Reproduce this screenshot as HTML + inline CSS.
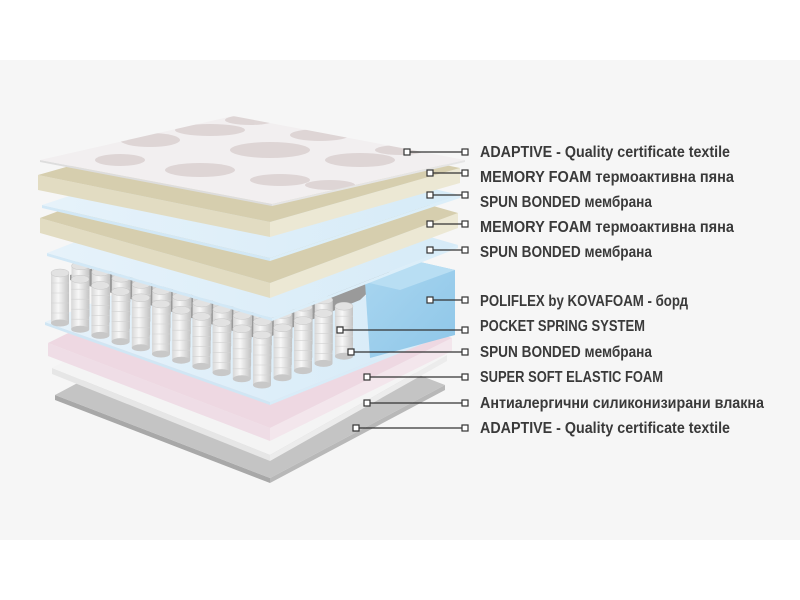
<!DOCTYPE html>
<html><head><meta charset="utf-8"><style>
html,body{margin:0;padding:0;background:#fff;}
#w{position:relative;width:800px;height:600px;overflow:hidden;}
svg{position:absolute;left:0;top:0;}
text{font-family:"Liberation Sans Narrow","Liberation Sans",sans-serif;font-weight:bold;font-size:16px;fill:#3a3a3a;}
</style></head><body><div id="w">
<svg id="s" width="800" height="600" viewBox="0 0 800 600" xmlns="http://www.w3.org/2000/svg">
<defs>
<linearGradient id="bl" x1="0" y1="0" x2="1" y2="0"><stop offset="0" stop-color="#e6f2fa"/><stop offset="1" stop-color="#d6ebf8"/></linearGradient>
<linearGradient id="blk" x1="0" y1="0" x2="1" y2="1"><stop offset="0" stop-color="#a9d6f0"/><stop offset="1" stop-color="#8ec6e8"/></linearGradient>
<linearGradient id="cy" x1="0" y1="0" x2="1" y2="0"><stop offset="0" stop-color="#d8d8d8"/><stop offset="0.4" stop-color="#f7f7f7"/><stop offset="1" stop-color="#c4c4c4"/></linearGradient>
</defs>
<rect x="0" y="60" width="800" height="480" fill="#f6f6f6"/>
<g id="g"></g>
<g id="c" stroke="#333" stroke-width="1.2" fill="none"></g>
<g id="t">
<text x="480" y="157" textLength="250" lengthAdjust="spacingAndGlyphs">ADAPTIVE - Quality certificate textile</text>
<text x="480" y="182" textLength="254" lengthAdjust="spacingAndGlyphs">MEMORY FOAM термоактивна пяна</text>
<text x="480" y="207" textLength="172" lengthAdjust="spacingAndGlyphs">SPUN BONDED мембрана</text>
<text x="480" y="232" textLength="254" lengthAdjust="spacingAndGlyphs">MEMORY FOAM термоактивна пяна</text>
<text x="480" y="257" textLength="172" lengthAdjust="spacingAndGlyphs">SPUN BONDED мембрана</text>
<text x="480" y="306" textLength="208" lengthAdjust="spacingAndGlyphs">POLIFLEX by KOVAFOAM - борд</text>
<text x="480" y="331" textLength="165" lengthAdjust="spacingAndGlyphs">POCKET SPRING SYSTEM</text>
<text x="480" y="357" textLength="172" lengthAdjust="spacingAndGlyphs">SPUN BONDED мембрана</text>
<text x="480" y="382" textLength="183" lengthAdjust="spacingAndGlyphs">SUPER SOFT ELASTIC FOAM</text>
<text x="480" y="408" textLength="284" lengthAdjust="spacingAndGlyphs">Антиалергични силиконизирани влакна</text>
<text x="480" y="433" textLength="250" lengthAdjust="spacingAndGlyphs">ADAPTIVE - Quality certificate textile</text>
</g>
</svg>
<script>
var g=document.getElementById('g'),NS="http://www.w3.org/2000/svg";
function el(n,a,p){var e=document.createElementNS(NS,n);for(var k in a)e.setAttribute(k,a[k]);(p||g).appendChild(e);return e;}
function P(a){return a.map(function(p){return p[0]+','+p[1]}).join(' ');}
function layer(L,R,F,t,top,s1,s2){
 var B=[L[0]+R[0]-F[0],L[1]+R[1]-F[1]];
 el('polygon',{points:P([L,F,[F[0],F[1]+t],[L[0],L[1]+t]]),fill:s1});
 el('polygon',{points:P([F,R,[R[0],R[1]+t],[F[0],F[1]+t]]),fill:s2});
 el('polygon',{points:P([L,B,R,F]),fill:top});
}
layer([55,395],[445,385],[270,478],5,"#c4c4c4","#a8a8a8","#b8b8b8");
layer([52,368],[447,355],[270,455],6,"#f4f4f4","#e6e6e6","#ececec");
layer([48,343],[452,338],[270,428],13,"#eed8e2","#efdde6","#f3e6ec");
layer([45,322],[455,328],[270,402],3,"url(#bl)","#d0e6f4","#d8ecf8");
var F0=[262,335],u=[-20.2,-6.2],v=[20.5,-7.2],H=50;
function cyl(x,y){
 el('rect',{x:x-9,y:y,width:18,height:H,fill:"url(#cy)"});
 el('ellipse',{cx:x,cy:y+H,rx:9,ry:3.5,fill:"#c8c8c8"});
 for(var k=1;k<5;k++)el('line',{x1:x-9,y1:y+k*10,x2:x+9,y2:y+k*10,stroke:"#d2d2d2","stroke-width":0.6});
 el('ellipse',{cx:x,cy:y,rx:9,ry:4,fill:"#e2e2e2",stroke:"#c6c6c6","stroke-width":0.5});
}
el('polygon',{points:P([[70,275],[250,222],[400,262],[360,300],[262,340],[70,280]]),fill:"#9a9a9a"});
for(var j=4;j>=0;j--)for(var i=10;i>=0;i--){cyl(F0[0]+i*u[0]+j*v[0],F0[1]+i*u[1]+j*v[1]);}
el('polygon',{points:P([[365,282],[420,262],[455,270],[455,335],[370,358]]),fill:"url(#blk)"});
el('polygon',{points:P([[365,282],[420,262],[455,270],[400,290]]),fill:"#b8def3"});
layer([47,253],[458,245],[272,318],3,"url(#bl)","#d2e8f6","#dbeef9");
layer([40,218],[458,213],[270,283],15,"#d6ceae","#e2dcc2","#ece8d4");
layer([42,205],[460,195],[270,258],3,"url(#bl)","#d2e8f6","#dbeef9");
layer([38,175],[460,168],[270,222],15,"#d6ceae","#e2dcc2","#ece8d4");
layer([40,160],[465,160],[272,204],2,"#f2eff0","#ddd","#e5e5e5");
var cl=el('clipPath',{id:'tc'},document.querySelector('defs'));
el('polygon',{points:P([[40,160],[233,116],[465,160],[272,204]])},cl);
var pg=el('g',{'clip-path':'url(#tc)',fill:"#d9cfcf",opacity:0.8});
[[150,140,30,7],[210,130,35,6],[270,150,40,8],[320,135,30,6],[200,170,35,7],[280,180,30,6],[360,160,35,7],[120,160,25,6],[250,120,25,5],[400,150,25,5],[330,185,25,5]].forEach(function(a){el('ellipse',{cx:a[0],cy:a[1],rx:a[2],ry:a[3]},pg);});
var c=document.getElementById('c');
[[407,152],[430,173],[430,195],[430,224],[430,250],[430,300],[340,330],[351,352],[367,377],[367,403],[356,428]].forEach(function(a){
 el('line',{x1:a[0]+3,y1:a[1],x2:462,y2:a[1]},c);
 el('rect',{x:a[0]-3,y:a[1]-3,width:6,height:6,fill:"#fff"},c);
 el('rect',{x:462,y:a[1]-3,width:6,height:6,fill:"#fff"},c);
});
</script>
</div></body></html>
